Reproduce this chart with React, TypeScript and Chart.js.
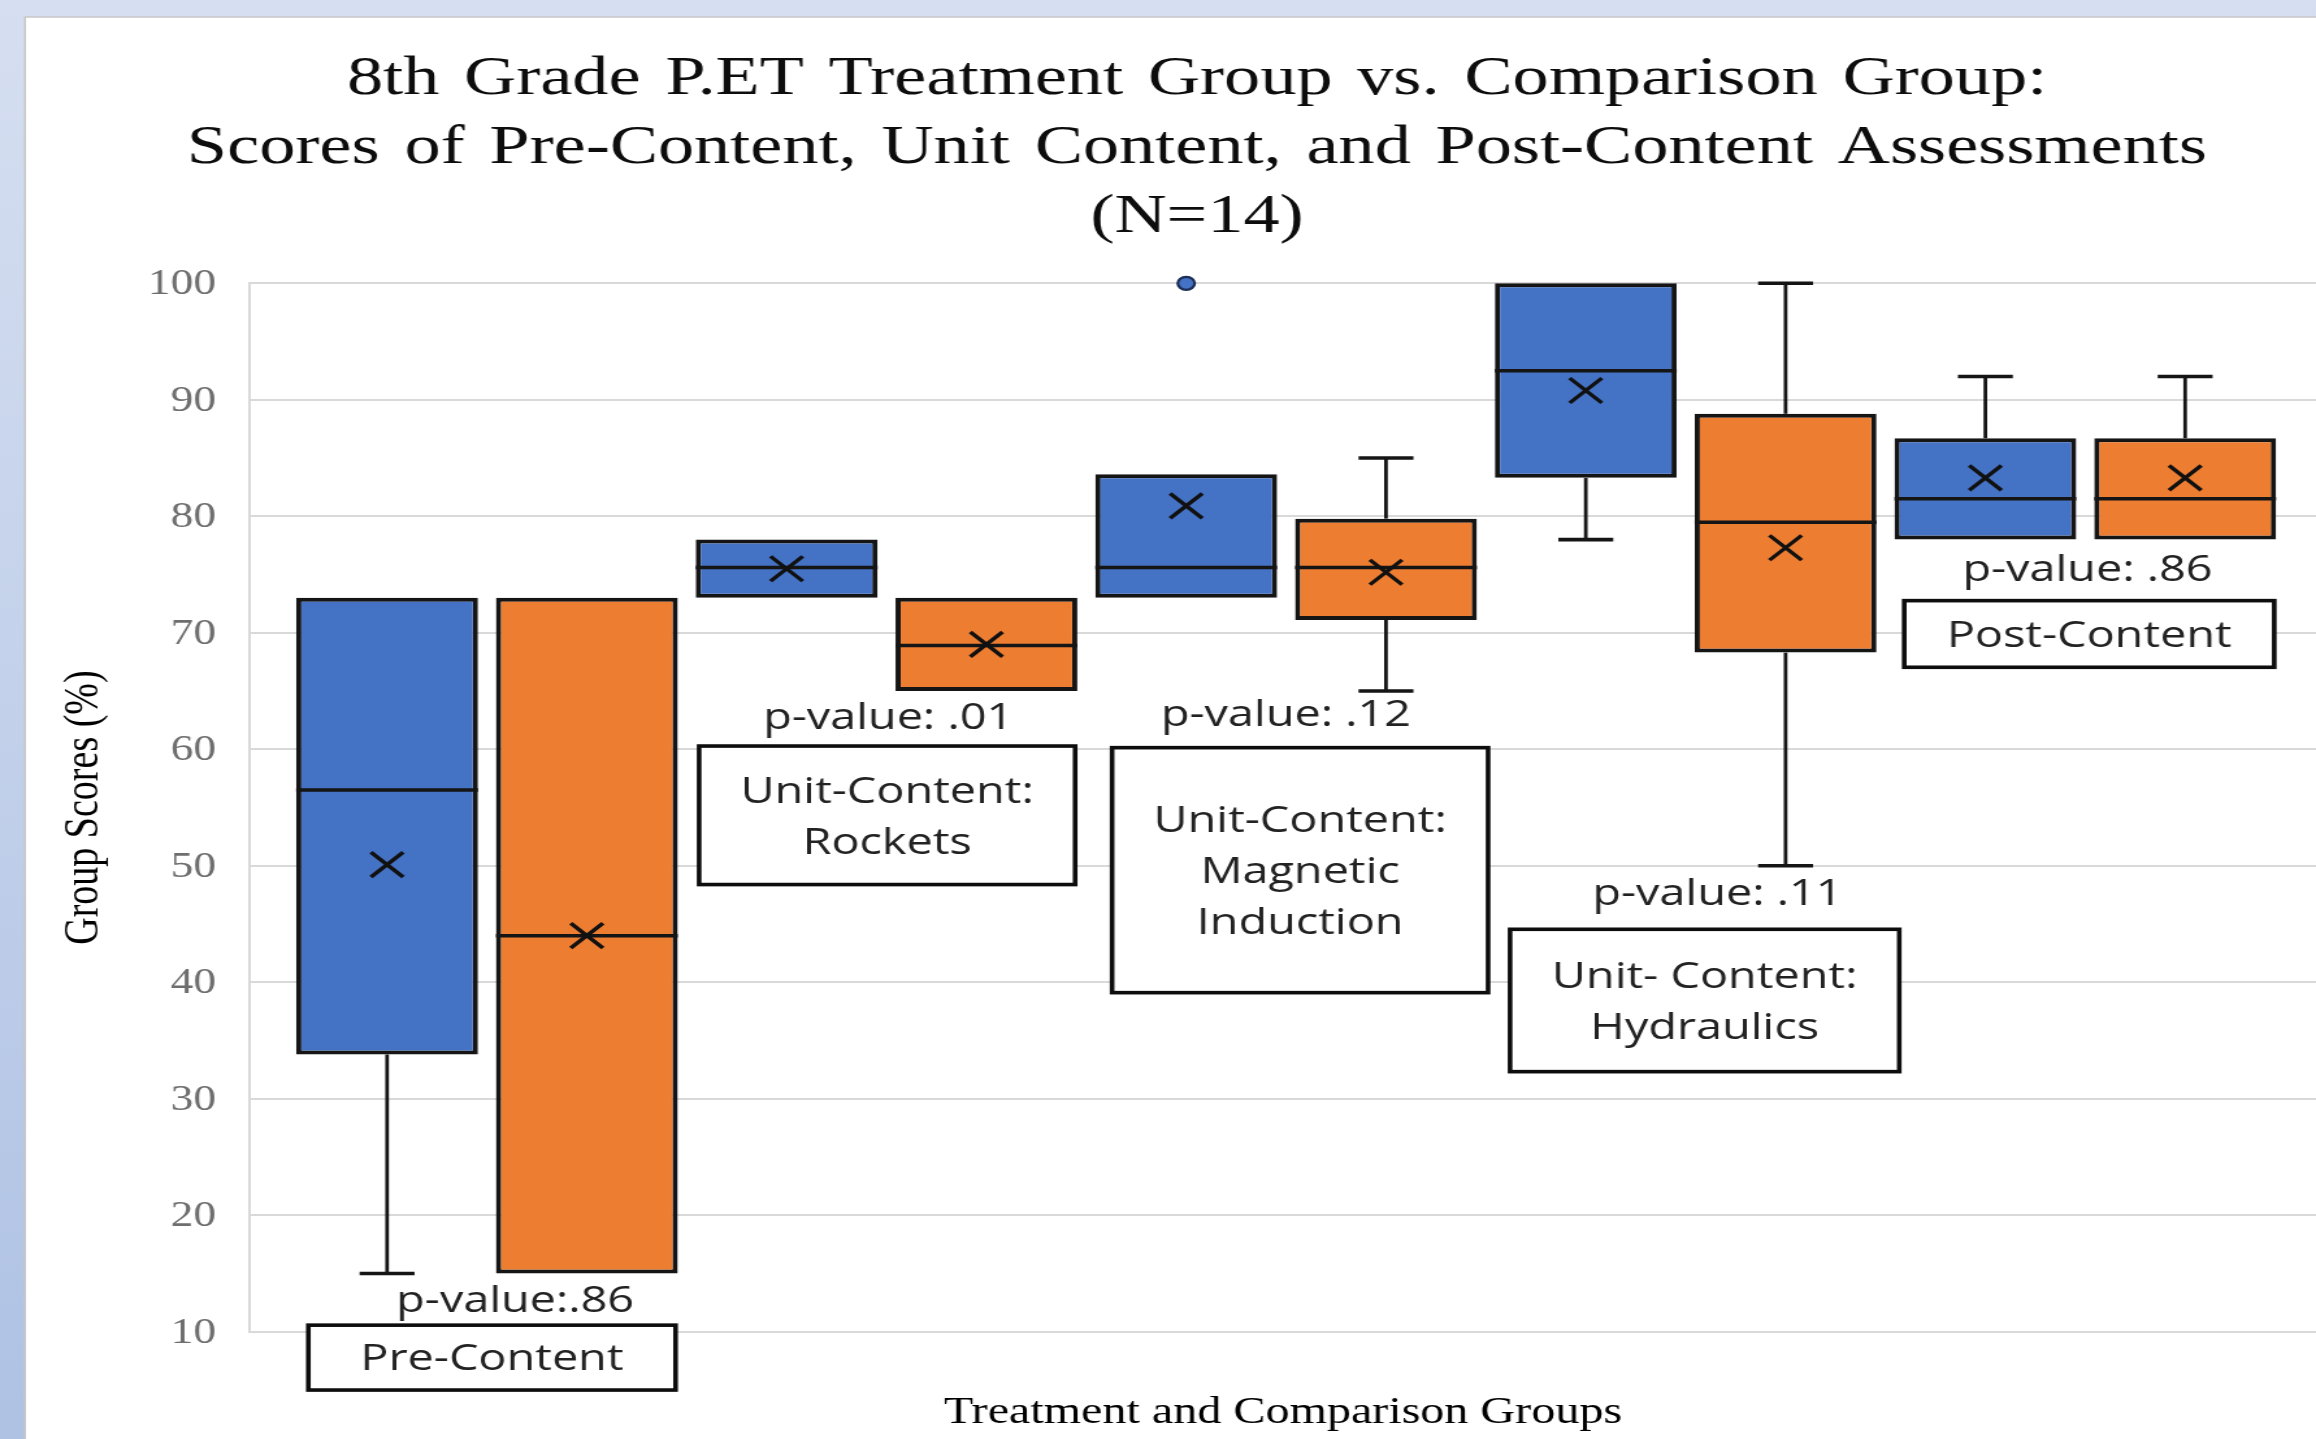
import React, { useEffect, useRef } from 'react';
import { Chart, registerables } from 'chart.js';

Chart.register(...registerables);

// ---------------- DATA ----------------
const categories = [
  'Pre-Content',
  'Unit-Content: Rockets',
  'Unit-Content: Magnetic Induction',
  'Unit-Content: Hydraulics',
  'Post-Content',
];
const seriesNames = ['Treatment Group', 'Comparison Group'];

const treatmentMin = [15, 73, 73, 78, 78];
const treatmentQ1 = [33.8, 73, 73, 83.3, 78];
const treatmentMedian = [56.5, 75.6, 75.6, 92.5, 81.5];
const treatmentQ3 = [73, 78, 83.6, 100, 86.7];
const treatmentMax = [73, 78, 83.6, 100, 92];
const treatmentMean = [50.1, 75.5, 80.9, 90.8, 83.3];
const treatmentOutliers: number[][] = [[], [], [100], [], []];

const comparisonMin = [15, 65, 65, 50, 78];
const comparisonQ1 = [15, 65, 71.1, 68.3, 78];
const comparisonMedian = [44, 68.9, 75.6, 79.5, 81.5];
const comparisonQ3 = [73, 73, 79.8, 88.8, 86.7];
const comparisonMax = [73, 73, 85, 100, 92];
const comparisonMean = [44, 69, 75.2, 77.3, 83.3];
const comparisonOutliers: number[][] = [[], [], [], [], []];

const pValueLabels = ['p-value:.86', 'p-value: .01', 'p-value: .12', 'p-value: .11', 'p-value: .86'];
const groupLabelLines = [
  ['Pre-Content'],
  ['Unit-Content:', 'Rockets'],
  ['Unit-Content:', 'Magnetic', 'Induction'],
  ['Unit- Content:', 'Hydraulics'],
  ['Post-Content'],
];

const titleLines = [
  '8th Grade P.ET Treatment Group vs. Comparison Group:',
  'Scores of Pre-Content, Unit Content, and Post-Content Assessments',
  '(N=14)',
];
const yAxisTitle = 'Group Scores (%)';
const xAxisTitle = 'Treatment and Comparison Groups';
const yMin = 10;
const yMax = 100;
const yStep = 10;

// ---------------- LAYOUT / STYLE ----------------
const CW = 1782;
const CH = 1439;
const SX = 2316 / CW;

const COLORS = ['#4472C4', '#ED7D31'];
const LINE = '#151515';

// annotation placement in axis units (x: box slot index, y: score)
const labelLayout = [
  { cx: 0.525, halfW: 0.919, top: 10.57, bottom: 5.0, pvX: 0.641, pvY: 11.73 },
  { cx: 2.503, halfW: 0.941, top: 60.28, bottom: 48.39, pvX: 2.508, pvY: 61.78 },
  { cx: 4.57, halfW: 0.941, top: 60.14, bottom: 39.11, pvX: 4.499, pvY: 61.97 },
  { cx: 6.595, halfW: 0.974, top: 44.55, bottom: 32.33, pvX: 6.659, pvY: 46.64 },
  { cx: 8.52, halfW: 0.926, top: 72.76, bottom: 67.04, pvX: 8.511, pvY: 74.47 },
];

const series = [
  {
    name: seriesNames[0], color: COLORS[0], min: treatmentMin, q1: treatmentQ1, median: treatmentMedian,
    q3: treatmentQ3, max: treatmentMax, mean: treatmentMean, outliers: treatmentOutliers,
  },
  {
    name: seriesNames[1], color: COLORS[1], min: comparisonMin, q1: comparisonQ1, median: comparisonMedian,
    q3: comparisonQ3, max: comparisonMax, mean: comparisonMean, outliers: comparisonOutliers,
  },
];
const xOf = (cat: number, s: number) => cat * series.length + s;

const backgroundPlugin = {
  id: 'panelAndTitle',
  beforeDraw(chart: any) {
    const ctx = chart.ctx as CanvasRenderingContext2D;
    ctx.save();
    const g = ctx.createLinearGradient(0, 0, 0, CH);
    g.addColorStop(0, '#d6dff1');
    g.addColorStop(1, '#afc2e4');
    ctx.fillStyle = g;
    ctx.fillRect(0, 0, CW, CH);
    const px = 25 / SX;
    const py = 17;
    ctx.fillStyle = '#ffffff';
    ctx.fillRect(px, py, CW - px, CH - py);
    ctx.strokeStyle = '#c8c8c8';
    ctx.lineWidth = 1.5;
    ctx.beginPath();
    ctx.moveTo(px, CH);
    ctx.lineTo(px, py);
    ctx.lineTo(CW, py);
    ctx.stroke();

    // title
    ctx.fillStyle = '#0d0d0d';
    ctx.font = '55.6px "Liberation Serif"';
    ctx.textBaseline = 'alphabetic';
    ctx.textAlign = 'left';
    const baselines = [94, 163.3, 231.7];
    const cx = 1197 / SX;
    titleLines.forEach((line, li) => {
      const words = line.split(' ');
      const space = ctx.measureText(' ').width + 5.2;
      const widths = words.map((w) => ctx.measureText(w).width);
      const total = widths.reduce((a, b) => a + b, 0) + space * (words.length - 1);
      let x = cx - total / 2;
      words.forEach((w, k) => {
        ctx.fillText(w, x, baselines[li]);
        x += widths[k] + space;
      });
    });
    ctx.restore();
  },
};

const boxPlugin = {
  id: 'boxWhiskers',
  beforeDatasetsDraw(chart: any) {
    const ctx = chart.ctx as CanvasRenderingContext2D;
    const ys = chart.scales.y;
    ctx.save();
    ctx.strokeStyle = LINE;
    series.forEach((s, si) => {
      const meta = chart.getDatasetMeta(si);
      meta.data.forEach((el: any, i: number) => {
        const cx = el.x;
        const cap = el.width * 0.151;
        const draw = (from: number, to: number) => {
          const y0 = ys.getPixelForValue(from);
          const y1 = ys.getPixelForValue(to);
          ctx.lineWidth = 2.8;
          ctx.beginPath();
          ctx.moveTo(cx, y0);
          ctx.lineTo(cx, y1);
          ctx.stroke();
          ctx.lineWidth = 3.6;
          ctx.beginPath();
          ctx.moveTo(cx - cap, y1);
          ctx.lineTo(cx + cap, y1);
          ctx.stroke();
        };
        if (s.max[i] > s.q3[i]) draw(s.q3[i], s.max[i]);
        if (s.min[i] < s.q1[i]) draw(s.q1[i], s.min[i]);
      });
    });
    ctx.restore();
  },
  afterDatasetDraw(chart: any, args: any) {
    const si = args.index;
    if (si >= series.length) return;
    const s = series[si];
    const ctx = chart.ctx as CanvasRenderingContext2D;
    const ys = chart.scales.y;
    ctx.save();
    ctx.strokeStyle = LINE;
    ctx.lineWidth = 3.5;
    args.meta.data.forEach((el: any, i: number) => {
      const y = ys.getPixelForValue(s.median[i]);
      ctx.beginPath();
      ctx.moveTo(el.x - el.width / 2, y);
      ctx.lineTo(el.x + el.width / 2, y);
      ctx.stroke();
    });
    ctx.restore();
  },
};

const annotationPlugin = {
  id: 'groupLabels',
  afterDraw(chart: any) {
    const ctx = chart.ctx as CanvasRenderingContext2D;
    const xs = chart.scales.x;
    const ys = chart.scales.y;
    const unit = xs.getPixelForValue(1) - xs.getPixelForValue(0);
    ctx.save();
    categories.forEach((_, i) => {
      const L = labelLayout[i];
      const cx = xs.getPixelForValue(L.cx);
      const hw = L.halfW * unit;
      const top = ys.getPixelForValue(L.top);
      const bottom = ys.getPixelForValue(L.bottom);
      ctx.fillStyle = '#ffffff';
      ctx.fillRect(cx - hw, top, hw * 2, bottom - top);
      ctx.lineWidth = 3.6;
      ctx.strokeStyle = '#0d0d0d';
      ctx.strokeRect(cx - hw, top, hw * 2, bottom - top);

      ctx.font = '36px "Open Sans"';
      ctx.fillStyle = '#222222';
      ctx.textAlign = 'center';
      ctx.textBaseline = 'alphabetic';
      const lines = groupLabelLines[i];
      const capH = 25.7;
      const lh = 51;
      const block = capH + (lines.length - 1) * lh;
      const first = (top + bottom) / 2 - block / 2 + capH;
      lines.forEach((ln, k) => ctx.fillText(ln, cx, first + k * lh));
      ctx.fillText(pValueLabels[i], xs.getPixelForValue(L.pvX), ys.getPixelForValue(L.pvY));
    });
    ctx.restore();
  },
};

export default function App() {
  const ref = useRef<HTMLCanvasElement>(null);

  useEffect(() => {
    const canvas = ref.current;
    if (!canvas) return;

    const barSets = series.map((s, si) => ({
      type: 'bar' as const,
      label: s.name,
      data: categories.map((_, i) => ({ x: xOf(i, si), y: [s.q1[i], s.q3[i]] })),
      backgroundColor: s.color,
      borderColor: LINE,
      borderWidth: 4,
      borderSkipped: false,
      grouped: false,
      categoryPercentage: 1,
      barPercentage: 0.91,
      order: 2,
      clip: false as any,
    }));
    const meanSets = series.map((s, si) => ({
      type: 'scatter' as const,
      label: s.name + ' mean',
      data: categories.map((_, i) => ({ x: xOf(i, si), y: s.mean[i] })),
      pointStyle: 'crossRot',
      pointRadius: 17.5,
      pointBorderWidth: 3.4,
      pointBorderColor: '#111111',
      pointBackgroundColor: 'rgba(0,0,0,0)',
      showLine: false,
      order: 0,
      clip: false as any,
    }));
    const outlierSets = series.map((s, si) => ({
      type: 'scatter' as const,
      label: s.name + ' outliers',
      data: s.outliers.flatMap((vals, i) => vals.map((v) => ({ x: xOf(i, si), y: v }))),
      pointStyle: 'circle',
      pointRadius: 6.5,
      pointBorderWidth: 2.2,
      pointBorderColor: '#1c2e55',
      pointBackgroundColor: s.color,
      showLine: false,
      order: 0,
      clip: false as any,
    }));

    const chart = new Chart(canvas, {
      type: 'bar',
      data: { datasets: [...barSets, ...meanSets, ...outlierSets] as any },
      options: {
        responsive: false,
        animation: false,
        devicePixelRatio: 1,
        events: [],
        layout: { autoPadding: false, padding: { top: 283.3, left: 0, right: 0, bottom: 0 } },
        plugins: {
          legend: { display: false },
          tooltip: { enabled: false },
          title: { display: false },
        },
        scales: {
          x: {
            type: 'linear',
            min: -0.686,
            max: 9.655,
            offset: false,
            grid: { display: false, drawTicks: false },
            border: { display: false },
            ticks: { display: false, stepSize: 1, includeBounds: false },
            title: {
              display: true,
              text: xAxisTitle,
              color: '#000000',
              font: { family: 'Liberation Serif', size: 37 },
              padding: { top: 59, bottom: 3.8 },
            },
          },
          y: {
            type: 'linear',
            min: yMin,
            max: yMax,
            beginAtZero: false,
            afterFit: (scale: any) => {
              scale.width = 250 / SX;
            },
            grid: { color: '#d9d9d9', lineWidth: 2, drawTicks: false },
            border: { display: true, color: '#d9d9d9', width: 2 },
            ticks: {
              stepSize: yStep,
              padding: 26.2,
              labelOffset: 2,
              color: '#6e6e6e',
              font: { family: 'Liberation Serif', size: 35 },
            },
            title: {
              display: true,
              text: yAxisTitle,
              color: '#000000',
              font: { family: 'Liberation Serif', size: 38 },
              padding: { top: 42.6, bottom: 0 },
            },
          },
        },
      } as any,
      plugins: [backgroundPlugin, boxPlugin, annotationPlugin],
    });

    return () => chart.destroy();
  }, []);

  return (
    <div
      style={{
        position: 'fixed',
        left: 0,
        top: 0,
        width: 2316,
        height: 1439,
        overflow: 'hidden',
        background: '#ffffff',
      }}
    >
      <canvas
        ref={ref}
        width={CW}
        height={CH}
        style={{
          display: 'block',
          width: CW,
          height: CH,
          transform: `scaleX(${SX})`,
          transformOrigin: '0 0',
        }}
      />
    </div>
  );
}
